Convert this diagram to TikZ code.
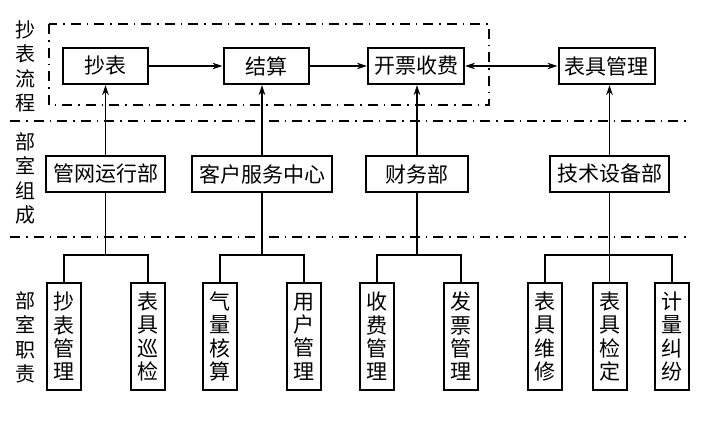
\documentclass[tikz,border=0pt]{standalone}
\usepackage{fontspec}
\setmainfont{Noto Sans CJK SC}
\usetikzlibrary{arrows.meta}
\tikzstyle{proc}=[draw, line width=2pt, minimum width=85pt, minimum height=36pt, inner xsep=6pt, inner ysep=0pt, font=\fontsize{21}{24}\selectfont]
\tikzstyle{dept}=[proc, inner xsep=7pt]
\tikzstyle{duty}=[draw, line width=2pt, minimum width=34pt, minimum height=107pt, inner sep=0pt, text width=21pt, align=center, font=\fontsize{21}{23.3}\selectfont]
\tikzstyle{side}=[align=center, font=\fontsize{20}{24.4}\selectfont]
\tikzstyle{frame}=[line width=1.5pt, dash pattern=on 10pt off 6pt on 1.5pt off 6pt]
\tikzstyle{link}=[line width=1.6pt]
\newcommand{\proc}{\node[proc]}
\newcommand{\dept}{\node[dept]}
\newcommand{\duty}{\node[duty]}

\begin{document}
\begin{tikzpicture}[x=1pt, y=-1pt, >={Stealth[length=10pt,width=6.5pt]}]
\useasboundingbox (0,0) rectangle (708,424);
% left labels
\node[side] (s1) at (25,66.5) {抄\\表\\流\\程};
\node[side] (s2) at (25,178.5) {部\\室\\组\\成};
\node[side] (s3) at (25,337.5) {部\\室\\职\\责};
% flow row
\proc (cb) at (105.5,66) {抄表};
\proc (jsuan) at (266,66) {结算};
\proc (kp) at (416,66) {开票收费};
\proc (bjgl) at (606.5,66) {表具管理};
\draw[frame] (49,24) rectangle (489,105);
\draw[frame] (10,121) -- (690,121) (10,237) -- (690,237);
\draw[link,->] (cb) -- (jsuan);
\draw[link,->] (jsuan) -- (kp);
\draw[link,<->] (kp) -- (bjgl);
% departments
\dept (gw) at (105.5,174) {管网运行部};
\dept (kf) at (262,174) {客户服务中心};
\dept (cw) at (417,174) [minimum width=102pt] {财务部};
\dept (jssb) at (609.5,174) {技术设备部};
\foreach \a/\b in {gw/cb, kf/jsuan, cw/kp, jssb/bjgl}
	\draw[link,->] (\a.north) -- (\a.north |- \b.south);
% duties
\foreach \n/\x/\p/\q/\r/\s in {d1/64/抄/表/管/理, d2/148/表/具/巡/检, d3/220/气/量/核/算, d4/304/用/户/管/理, d5/377/收/费/管/理, d6/461/发/票/管/理, d7/545/表/具/维/修, d8/609.5/表/具/检/定, d9/672/计/量/纠/纷}
	\duty (\n) at (\x,336.5) {\p\\\q\\\r\\\s};
\coordinate (j1) at (105.5,255);
\coordinate (j2) at (262,255);
\coordinate (j3) at (417,255);
\coordinate (j4) at (609.5,255);
\draw[link] (gw.south) -- (j1) (d1.north) |- (j1) -| (d2.north);
\draw[link] (kf.south) -- (j2) (d3.north) |- (j2) -| (d4.north);
\draw[link] (cw.south) -- (j3) (d5.north) |- (j3) -| (d6.north);
\draw[link] (jssb.south) -- (d8.north) (d7.north) |- (j4) -| (d9.north);
\end{tikzpicture}
\end{document}
